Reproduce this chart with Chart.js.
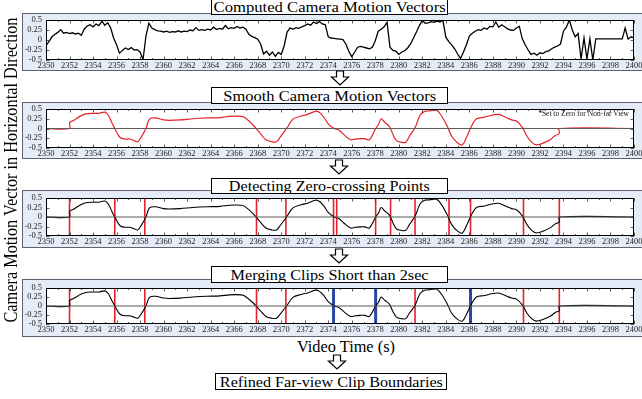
<!DOCTYPE html>
<html>
<head>
<meta charset="utf-8">
<script src="https://cdn.jsdelivr.net/npm/chart.js@4.4.0/dist/chart.umd.min.js"></script>
<style>
html, body { margin: 0; padding: 0; background: #fff; }
body { width: 642px; height: 399px; position: relative; overflow: hidden;
       font-family: "Liberation Serif", "Times New Roman", serif; color: #000; }
.panel { position: absolute; left: 22px; width: 630px; background: #e6ecf7;
         border: 1px solid #5c6270; box-sizing: border-box; }
canvas.plot { position: absolute; left: 0; z-index: 2; }
.title { position: absolute; background: #fff; border: 1.5px solid #000; box-sizing: border-box;
         z-index: 3; text-align: center; overflow: visible; }
.title span, .label span { display: inline-block; white-space: nowrap; font-size: 15px; transform-origin: 50% 50%; }
.label { position: absolute; z-index: 3; text-align: center; }
.note { position: absolute; z-index: 3; font-size: 7.5px; white-space: nowrap; color: #111; }
#ytitle { position: absolute; left: 11px; top: 170px; white-space: nowrap; font-size: 16.5px;
          transform-origin: 50% 50%; z-index: 3; }
svg.arrows { position: absolute; left: 0; top: 0; z-index: 4; }
</style>
</head>
<body>

<div class="panel" style="top:13px;height:58px"></div>
<div class="panel" style="top:102px;height:57px"></div>
<div class="panel" style="top:190px;height:58px"></div>
<div class="panel" style="top:279px;height:58px"></div>

<canvas class="plot" id="c1" width="642" height="58" style="top:13px"></canvas>
<canvas class="plot" id="c2" width="642" height="57" style="top:102px"></canvas>
<canvas class="plot" id="c3" width="642" height="58" style="top:190px"></canvas>
<canvas class="plot" id="c4" width="642" height="58" style="top:279px"></canvas>

<div class="title" style="left:211px;top:-1px;width:237px;height:16px;line-height:14px"><span data-w="232">Computed Camera Motion Vectors</span></div>
<div class="title" style="left:211px;top:87px;width:237px;height:17px;line-height:15px"><span data-w="213">Smooth Camera Motion Vectors</span></div>
<div class="title" style="left:211px;top:178px;width:237px;height:16px;line-height:14px"><span data-w="201">Detecting Zero-crossing Points</span></div>
<div class="title" style="left:211px;top:266px;width:237px;height:17px;line-height:15px"><span data-w="198">Merging Clips Short than 2sec</span></div>
<div class="title" style="left:215px;top:373px;width:232px;height:17px;line-height:15px"><span data-w="223">Refined Far-view Clip Boundaries</span></div>

<div class="label" style="left:286px;top:338px;width:120px;line-height:18px"><span data-w="98" style="font-size:16px">Video Time (s)</span></div>

<div class="note" style="right:13px;top:109px">*Set to Zero for Non-far View</div>

<div id="ytitle">Camera Motion Vector in Horizontal Direction</div>

<svg class="arrows" width="642" height="399" id="arrows"></svg>

<script>
// Raw horizontal motion vector, sampled every 0.25 s from t = 2350 s
const rawStart = 2350;
const rawStep = 0.25;
const rawValues = [
  -0.14, -0.04, 0.08, 0.14, 0.19, 0.26, 0.17, 0.19,
  0.16, 0.18, 0.15, 0.17, 0.12, 0.27, 0.35, 0.38,
  0.33, 0.40, 0.36, 0.47, 0.37, 0.43, 0.30, 0.05,
  -0.12, -0.33, -0.26, -0.20, -0.24, -0.19, -0.25, -0.24,
  -0.30, -0.49, 0.10, 0.42, 0.30, 0.26, 0.23, 0.22,
  0.20, 0.22, 0.19, 0.21, 0.20, 0.23, 0.20, 0.22,
  0.21, 0.25, 0.23, 0.31, 0.24, 0.26, 0.24, 0.27,
  0.25, 0.32, 0.26, 0.29, 0.27, 0.36, 0.28, 0.31,
  0.29, 0.34, 0.30, 0.32, 0.27, 0.14, 0.09, 0.06,
  0.02, -0.10, -0.35, -0.28, -0.38, -0.30, -0.41, -0.31,
  -0.36, -0.15, 0.20, 0.30, 0.27, 0.31, 0.29, 0.33,
  0.36, 0.40, 0.37, 0.45, 0.41, 0.46, 0.40, 0.38,
  0.08, 0.05, 0.04, 0.03, 0.02, 0.01, -0.10, -0.28,
  -0.42, -0.30, -0.18, -0.16, -0.18, -0.20, -0.22, -0.18,
  -0.02, 0.22, 0.27, 0.33, 0.44, -0.18, -0.26, -0.28,
  -0.36, -0.30, -0.27, -0.20, -0.10, 0.05, 0.20, 0.36,
  0.49, 0.42, 0.43, 0.46, 0.44, 0.47, 0.45, 0.49,
  0.07, -0.04, -0.12, -0.22, -0.35, -0.46, -0.30, -0.12,
  0.10, 0.17, 0.22, 0.26, 0.24, 0.30, 0.27, 0.34,
  0.33, 0.45, 0.32, 0.38, 0.33, 0.28, 0.25, 0.24,
  0.30, 0.34, 0.03, -0.12, -0.25, -0.36, -0.33, -0.38,
  -0.32, -0.34, -0.29, -0.27, -0.22, -0.18, -0.15, -0.10,
  0.22, 0.32, 0.50, 0.25, 0.08, 0.16, -0.48, 0.05,
  -0.48, 0.03, -0.50, 0.03, 0.03, 0.03, 0.03, 0.03,
  0.03, 0.03, 0.03, 0.03, 0.03, 0.30, 0.02, 0.08, 0.05
];

// Smoothed motion vector (zero outside the far-view span)
const smoothTimes = [
  2350, 2352, 2352, 2352.3, 2353, 2353.5, 2354, 2354.5, 2355, 2355.3,
  2355.6, 2355.9, 2356.3, 2356.7, 2357.1, 2357.5, 2357.8, 2358.1, 2358.5, 2358.8,
  2359.3, 2360, 2360.5, 2361.4, 2362.5, 2363.7, 2364.8, 2365.6, 2366.6, 2366.9,
  2367.6, 2368.2, 2368.7, 2369.2, 2369.6, 2369.9, 2370.5, 2371, 2371.7, 2372.3,
  2372.9, 2373.2, 2373.6, 2374, 2374.5, 2374.9, 2375.3, 2375.9, 2376.3, 2376.7,
  2377.1, 2377.5, 2378, 2378.3, 2378.5, 2378.8, 2379.2, 2379.5, 2379.8, 2380.2,
  2380.6, 2380.9, 2381.4, 2381.8, 2382.2, 2382.6, 2383.2, 2383.6, 2384.1, 2384.5,
  2385, 2385.4, 2385.8, 2386.2, 2386.6, 2387.3, 2387.9, 2388.5, 2389.2, 2389.6,
  2390, 2390.5, 2390.9, 2391.3, 2391.7, 2392.3, 2392.9, 2393.3, 2393.65, 2393.65,
  2400
];
const smoothValues = [
  0, 0, 0.15, 0.2, 0.33, 0.38, 0.39, 0.39, 0.42, 0.34,
  0.15, -0.03, -0.23, -0.27, -0.27, -0.31, -0.34, -0.22, 0, 0.24,
  0.27, 0.22, 0.21, 0.22, 0.25, 0.27, 0.28, 0.31, 0.31, 0.28,
  0.09, -0.12, -0.29, -0.34, -0.34, -0.23, 0.02, 0.24, 0.32, 0.37,
  0.44, 0.42, 0.3, 0.12, 0, -0.04, -0.15, -0.29, -0.27, -0.26,
  -0.26, -0.29, -0.02, 0.12, 0.25, 0.16, 0.05, -0.15, -0.31, -0.35,
  -0.35, -0.2, 0.03, 0.34, 0.44, 0.45, 0.47, 0.34, 0.07, -0.2,
  -0.37, -0.42, -0.2, 0.07, 0.25, 0.29, 0.34, 0.36, 0.27, 0.22,
  0.19, 0.03, -0.2, -0.35, -0.42, -0.37, -0.28, -0.18, -0.13, 0,
  0
];

// Zero-crossing boundaries and the ones absorbed when merging short clips
const zeroCrossings = [2352, 2355.85, 2358.4, 2367.9, 2370.4, 2374.45, 2374.72, 2378.03,
                       2379.3, 2381.38, 2384.27, 2386.1, 2390.6, 2393.65];
const keptBoundaries = [2352, 2355.85, 2358.4, 2367.9, 2370.4, 2381.38, 2390.6, 2393.65];
const mergedBoundaries = [2374.45, 2378.03, 2386.1];

// Axis ranges and tick labels
const xMin = 2350, xMax = 2400, xStep = 2;
const yTickValues = [-0.5, -0.25, 0, 0.25, 0.5];
const yTickLabels = ['-0.5', '-0.25', '0', '0.25', '0.5'];

const RED = '#e8202a';
const BLUE = '#2b47a6';
const FONT = '"Liberation Serif", "Times New Roman", serif';

const rawPoints = rawValues.map((v, i) => ({ x: rawStart + i * rawStep, y: v }));
const smoothPoints = smoothTimes.map((t, i) => ({ x: t, y: smoothValues[i] }));

function vline(t, color, width) {
  return { data: [{ x: t, y: -0.5 }, { x: t, y: 0.5 }], borderColor: color, borderWidth: width,
           pointRadius: 0, tension: 0 };
}
function zeroLine() {
  return { data: [{ x: xMin, y: 0 }, { x: xMax, y: 0 }], borderColor: '#5a5a5a', borderWidth: 1.2,
           pointRadius: 0, tension: 0 };
}

// White plot area, black frame and inward tick marks
const framePlugin = {
  id: 'frame',
  beforeDraw(chart) {
    const a = chart.chartArea, ctx = chart.ctx;
    ctx.save();
    ctx.fillStyle = '#fff';
    ctx.fillRect(a.left, a.top, a.right - a.left, a.bottom - a.top);
    ctx.restore();
  },
  afterDraw(chart) {
    const a = chart.chartArea, ctx = chart.ctx;
    const xs = chart.scales.x, ys = chart.scales.y;
    ctx.save();
    ctx.strokeStyle = '#333';
    ctx.lineWidth = 0.8;
    ctx.beginPath();
    for (let t = xMin; t <= xMax; t += 1) {
      const px = Math.round(xs.getPixelForValue(t)) + 0.5;
      const len = (t - xMin) % xStep === 0 ? 3.5 : 2;
      ctx.moveTo(px, a.bottom); ctx.lineTo(px, a.bottom - len);
      ctx.moveTo(px, a.top); ctx.lineTo(px, a.top + len);
    }
    for (const v of yTickValues) {
      const py = Math.round(ys.getPixelForValue(v)) + 0.5;
      ctx.moveTo(a.left, py); ctx.lineTo(a.left + 3.5, py);
      ctx.moveTo(a.right, py); ctx.lineTo(a.right - 3.5, py);
    }
    ctx.stroke();
    ctx.strokeStyle = '#000';
    ctx.lineWidth = 1;
    ctx.strokeRect(a.left + 0.5, a.top + 0.5, a.right - a.left - 1, a.bottom - a.top - 1);
    ctx.restore();
  }
};

function makeChart(id, datasets, pad) {
  return new Chart(document.getElementById(id), {
    type: 'line',
    data: { datasets },
    options: {
      responsive: false, animation: false, devicePixelRatio: 1, events: [],
      layout: { padding: pad },
      elements: { point: { radius: 0 }, line: { fill: false } },
      plugins: { legend: { display: false }, tooltip: { enabled: false } },
      scales: {
        x: {
          type: 'linear', min: xMin, max: xMax,
          grid: { display: false, drawTicks: false }, border: { display: false },
          ticks: { stepSize: xStep, autoSkip: false, maxRotation: 0, padding: 1,
                   color: '#222', font: { family: FONT, size: 8.5 },
                   callback: v => String(v) },
          afterFit(s) { s.height = 10; s.paddingLeft = 0; s.paddingRight = 0; }
        },
        y: {
          min: -0.5, max: 0.5,
          grid: { display: false, drawTicks: false }, border: { display: false },
          ticks: { padding: 4, autoSkip: false, color: '#222', font: { family: FONT, size: 8.5 },
                   callback: (v) => yTickLabels[yTickValues.indexOf(v)] },
          afterBuildTicks(s) { s.ticks = yTickValues.map(v => ({ value: v })); },
          afterFit(s) { s.width = 21; s.paddingTop = 0; s.paddingBottom = 0; }
        }
      }
    },
    plugins: [framePlugin]
  });
}

// Panel 1: computed motion vectors
makeChart('c1', [
  { data: rawPoints, borderColor: '#000', borderWidth: 1.3, tension: 0 }
], { left: 25, right: 8, top: 7, bottom: 1 });

// Panel 2: smoothed motion vectors
makeChart('c2', [
  zeroLine(),
  { data: smoothPoints, borderColor: RED, borderWidth: 1.2, tension: 0.35 }
], { left: 25, right: 8, top: 7, bottom: 1 });

// Panel 3: zero-crossing points
makeChart('c3', [
  zeroLine(),
  { data: smoothPoints, borderColor: '#000', borderWidth: 1.1, tension: 0.35 },
  ...zeroCrossings.map(t => vline(t, RED, 1.6))
], { left: 25, right: 8, top: 8, bottom: 2 });

// Panel 4: after merging clips shorter than 2 s
makeChart('c4', [
  zeroLine(),
  { data: smoothPoints, borderColor: '#000', borderWidth: 1.1, tension: 0.35 },
  ...keptBoundaries.map(t => vline(t, RED, 1.6)),
  ...mergedBoundaries.map(t => vline(t, BLUE, 3))
], { left: 25, right: 8, top: 9, bottom: 3 });

// Hollow down arrows between the stages
const arrowSpots = [[340, 71], [339, 160], [339, 249], [337, 355]];
const svg = document.getElementById('arrows');
for (const [cx, y0] of arrowSpots) {
  const p = document.createElementNS('http://www.w3.org/2000/svg', 'polygon');
  const pts = [[cx - 3.5, y0], [cx + 3.5, y0], [cx + 3.5, y0 + 6], [cx + 8.5, y0 + 6],
               [cx, y0 + 14], [cx - 8.5, y0 + 6], [cx - 3.5, y0 + 6]];
  p.setAttribute('points', pts.map(q => q.join(',')).join(' '));
  p.setAttribute('fill', '#fff');
  p.setAttribute('stroke', '#000');
  p.setAttribute('stroke-width', '1.2');
  p.setAttribute('stroke-linejoin', 'miter');
  svg.appendChild(p);
}

// Stretch headline texts to their set widths
document.querySelectorAll('[data-w]').forEach(el => {
  const w = el.getBoundingClientRect().width;
  const target = parseFloat(el.dataset.w);
  el.style.transform = 'scaleX(' + (target / w).toFixed(3) + ')';
});
const yt = document.getElementById('ytitle');
const ylen = yt.getBoundingClientRect().width;
yt.style.transform = 'translate(-50%,-50%) scaleX(1.18) rotate(-90deg) scaleX(' + (305 / ylen).toFixed(3) + ')';
</script>
</body>
</html>
